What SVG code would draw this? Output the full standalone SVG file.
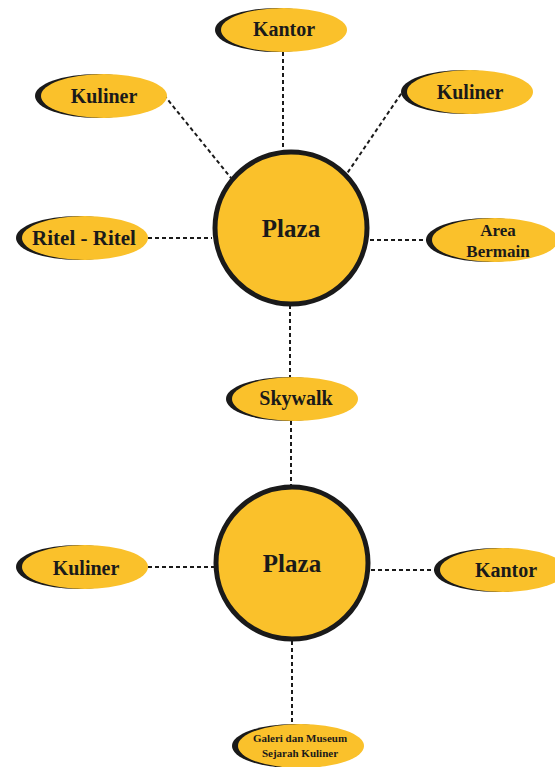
<svg xmlns="http://www.w3.org/2000/svg" width="555" height="767" viewBox="0 0 555 767">
  <style>
    .bg { fill: #ffffff; }
    .shade { fill: #1a1a1a; }
    .pill { fill: #FAC12B; }
    .hub { fill: #FAC12B; stroke: #1a1a1a; stroke-width: 5; }
    .lbl { font-family: "Liberation Serif", "Times New Roman", serif; font-weight: bold; fill: #1a1a1a; text-anchor: middle; }
    .link { stroke: #1a1a1a; stroke-width: 2; stroke-dasharray: 4 3; fill: none; }
  </style>
  <defs>
    <!-- label pill: yellow ellipse over a black one shifted left, leaving a crescent -->
    <g id="tag">
      <ellipse class="shade" cx="-7" cy="0" rx="62" ry="22"/>
      <ellipse class="pill" cx="0" cy="0" rx="63" ry="22"/>
    </g>
  </defs>
  <rect class="bg" x="0" y="0" width="555" height="767"/>

  <g id="connectors">
    <line class="link" x1="283" y1="52" x2="283" y2="152"/>
    <line class="link" x1="164" y1="95" x2="231" y2="178"/>
    <line class="link" x1="405" y1="88" x2="346" y2="175"/>
    <line class="link" x1="148" y1="238" x2="212" y2="238"/>
    <line class="link" x1="370" y1="240" x2="430" y2="240"/>
    <line class="link" x1="290" y1="305" x2="290" y2="378"/>
    <line class="link" x1="291" y1="421" x2="291" y2="487"/>
    <line class="link" x1="148" y1="567" x2="214" y2="567"/>
    <line class="link" x1="371" y1="570" x2="436" y2="570"/>
    <line class="link" x1="292" y1="641" x2="292" y2="725"/>
  </g>

  <g id="plaza-top">
    <circle class="hub" cx="291" cy="228" r="76"/>
    <text class="lbl" x="291" y="237" font-size="25">Plaza</text>
  </g>
  <g id="plaza-bottom">
    <circle class="hub" cx="292" cy="563" r="76"/>
    <text class="lbl" x="292" y="572" font-size="25">Plaza</text>
  </g>

  <g id="kantor-top">
    <use href="#tag" x="284" y="30"/>
    <text class="lbl" x="284" y="36" font-size="20">Kantor</text>
  </g>
  <g id="kuliner-left">
    <use href="#tag" x="104" y="96"/>
    <text class="lbl" x="104" y="103" font-size="20">Kuliner</text>
  </g>
  <g id="kuliner-right">
    <use href="#tag" x="470" y="92"/>
    <text class="lbl" x="470" y="99" font-size="20">Kuliner</text>
  </g>
  <g id="ritel">
    <use href="#tag" x="85" y="238"/>
    <text class="lbl" x="84" y="245" font-size="21">Ritel - Ritel</text>
  </g>
  <g id="area-bermain">
    <use href="#tag" x="495" y="240"/>
    <text class="lbl" x="498" y="236" font-size="17">Area</text>
    <text class="lbl" x="498" y="257" font-size="17">Bermain</text>
  </g>
  <g id="skywalk">
    <use href="#tag" x="295" y="399"/>
    <text class="lbl" x="296" y="405" font-size="20">Skywalk</text>
  </g>
  <g id="kuliner-bottom">
    <use href="#tag" x="85" y="567"/>
    <text class="lbl" x="86" y="575" font-size="20">Kuliner</text>
  </g>
  <g id="kantor-bottom">
    <use href="#tag" x="503" y="570"/>
    <text class="lbl" x="506" y="577" font-size="20">Kantor</text>
  </g>
  <g id="galeri">
    <use href="#tag" x="301" y="746"/>
    <text class="lbl" x="300" y="742" font-size="11">Galeri dan Museum</text>
    <text class="lbl" x="300" y="757" font-size="11">Sejarah Kuliner</text>
  </g>
</svg>
